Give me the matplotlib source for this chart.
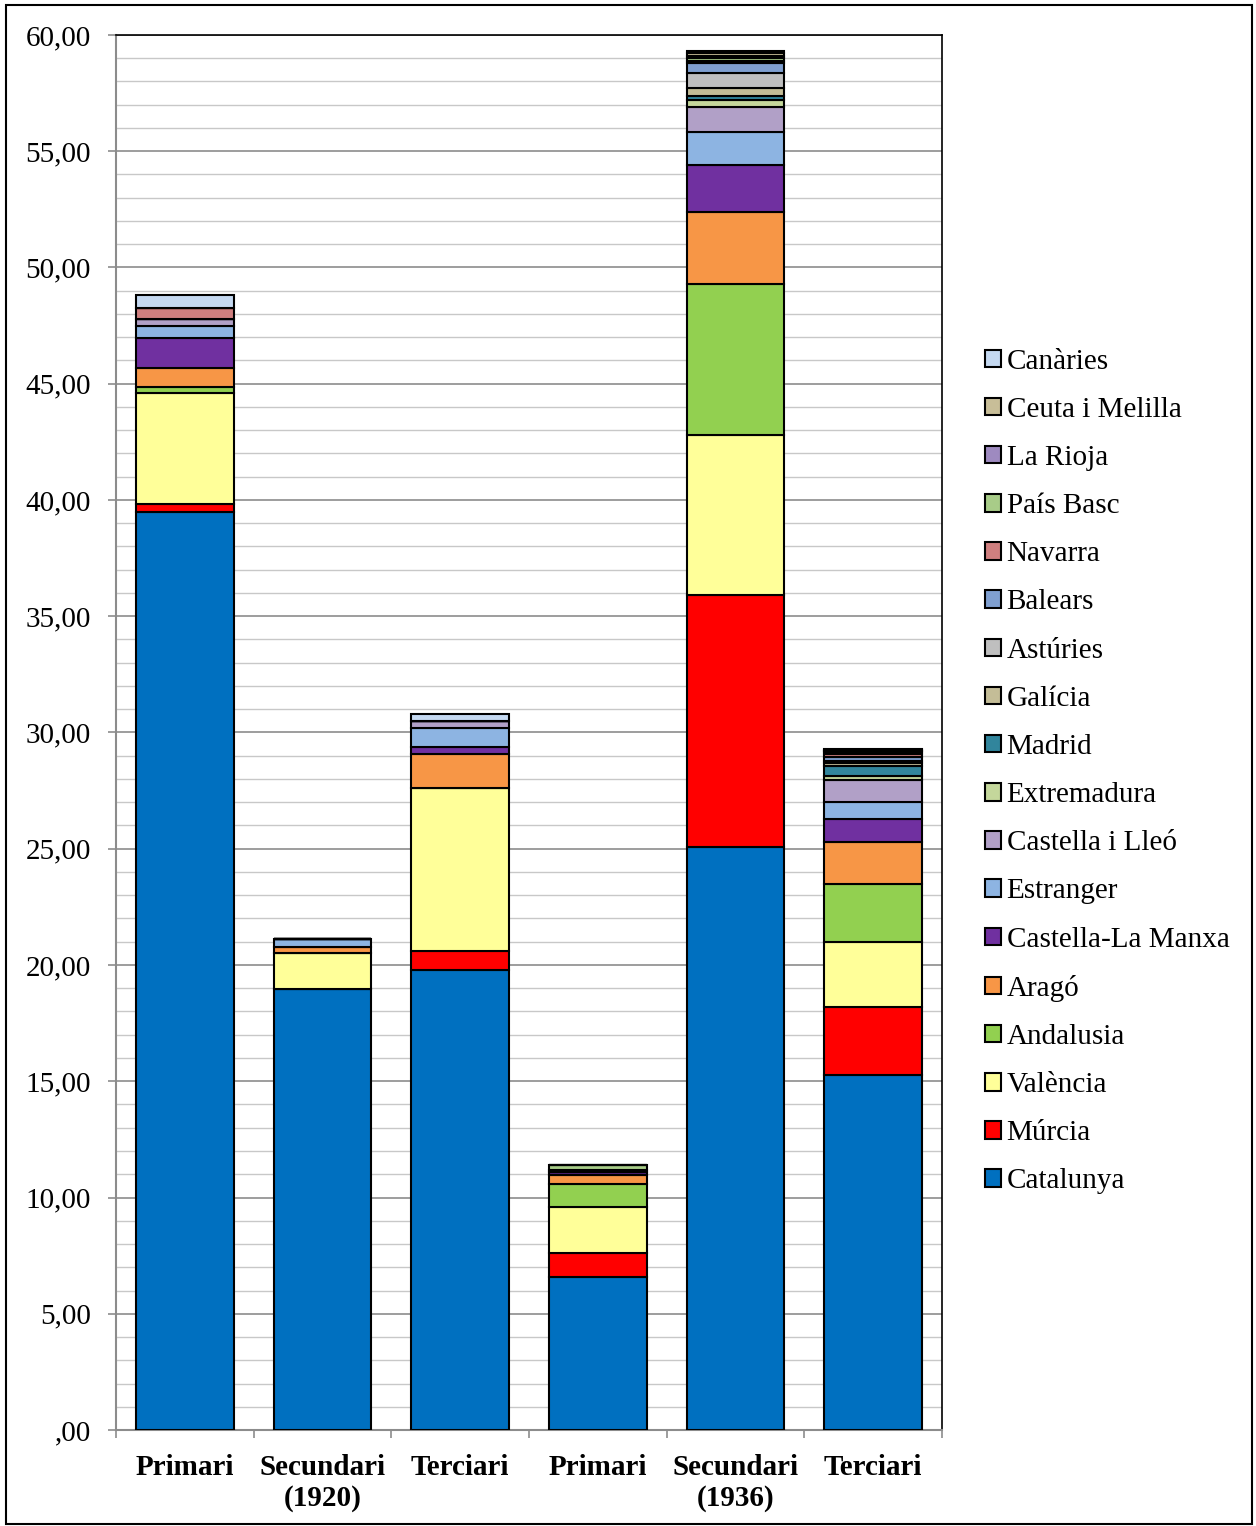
import matplotlib.pyplot as plt
from matplotlib.patches import Rectangle
from matplotlib.ticker import MultipleLocator, FuncFormatter
import numpy as np

plt.rcParams['font.family'] = ['Liberation Serif', 'DejaVu Serif']

# categories (six bars) and their labels
labels = ["Primari", "Secundari\n(1920)", "Terciari", "Primari", "Secundari\n(1936)", "Terciari"]

# segment values per region, bottom to top in stack order
catalunya  = [39.50, 18.97, 19.78, 6.58, 25.08, 15.27]
murcia     = [0.33, 0.00, 0.82, 1.03, 10.83, 2.92]
valencia   = [4.76, 1.53, 7.00, 1.98, 6.89, 2.80]
andalusia  = [0.28, 0.00, 0.00, 0.99, 6.49, 2.49]
arago      = [0.82, 0.29, 1.48, 0.39, 3.10, 1.81]
clm        = [1.29, 0.00, 0.28, 0.12, 2.02, 0.99]
estranger  = [0.50, 0.31, 0.82, 0.00, 1.42, 0.72]
cil        = [0.29, 0.00, 0.32, 0.00, 1.09, 0.96]
extremad   = [0.00, 0.00, 0.00, 0.00, 0.28, 0.18]
madrid     = [0.00, 0.00, 0.00, 0.00, 0.18, 0.43]
galicia    = [0.00, 0.00, 0.00, 0.00, 0.35, 0.13]
asturies   = [0.00, 0.00, 0.00, 0.00, 0.65, 0.08]
balears    = [0.00, 0.00, 0.00, 0.10, 0.40, 0.15]
navarra    = [0.50, 0.00, 0.00, 0.00, 0.08, 0.15]
pais_basc  = [0.00, 0.00, 0.00, 0.21, 0.15, 0.08]
la_rioja   = [0.00, 0.00, 0.00, 0.00, 0.10, 0.05]
ceuta      = [0.00, 0.00, 0.00, 0.00, 0.10, 0.04]
canaries   = [0.55, 0.00, 0.30, 0.00, 0.10, 0.03]

series = [
    ("Catalunya", catalunya, "#0070C0"),
    ("Múrcia", murcia, "#FF0000"),
    ("València", valencia, "#FFFF99"),
    ("Andalusia", andalusia, "#92D050"),
    ("Aragó", arago, "#F79646"),
    ("Castella-La Manxa", clm, "#7030A0"),
    ("Estranger", estranger, "#8DB4E2"),
    ("Castella i Lleó", cil, "#B1A0C7"),
    ("Extremadura", extremad, "#C4D79B"),
    ("Madrid", madrid, "#31859C"),
    ("Galícia", galicia, "#C4BD97"),
    ("Astúries", asturies, "#BFBFBF"),
    ("Balears", balears, "#7F9FD0"),
    ("Navarra", navarra, "#CF7F7F"),
    ("País Basc", pais_basc, "#A8CC88"),
    ("La Rioja", la_rioja, "#9E8AC0"),
    ("Ceuta i Melilla", ceuta, "#C8BE98"),
    ("Canàries", canaries, "#C5D9F1"),
]

fig = plt.figure(figsize=(12.56, 15.26), dpi=100)
ax = fig.add_axes([0.0924, 0.0629, 0.6576, 0.9142])

x = np.arange(len(labels))
bottom = np.zeros(len(labels))
handles = []
for name, vals, col in series:
    vals = np.array(vals)
    b = ax.bar(x, vals, 0.71, bottom=bottom, color=col, edgecolor="black",
               linewidth=1.5, label=name, zorder=3)
    handles.append(b)
    bottom += vals

ax.set_xlim(-0.5, len(labels) - 0.5)
ax.set_ylim(0, 60)
ax.yaxis.set_major_locator(MultipleLocator(5))
ax.yaxis.set_minor_locator(MultipleLocator(1))
ax.yaxis.set_major_formatter(FuncFormatter(
    lambda v, p: ",00" if v == 0 else f"{v:.2f}".replace(".", ",")))
ax.grid(which="major", axis="y", color="#8C8C8C", linewidth=1.2, zorder=0)
ax.grid(which="minor", axis="y", color="#C8C8C8", linewidth=1.0, zorder=0)
ax.tick_params(axis="y", which="major", labelsize=21, length=6, pad=12,
               color="#8C8C8C", width=1.2)
ax.tick_params(axis="y", which="minor", length=0)

ax.set_xticks(x)
ax.set_xticklabels(labels, fontsize=21, fontweight="bold", linespacing=1.2)
ax.tick_params(axis="x", which="major", length=0, pad=17)
ax.set_xticks(np.arange(len(labels) + 1) - 0.5, minor=True)
ax.tick_params(axis="x", which="minor", length=6, color="#8C8C8C", width=1.2)

for s in ["left", "bottom"]:
    ax.spines[s].set_color("#8C8C8C")
    ax.spines[s].set_linewidth(1.5)
for s in ["top", "right"]:
    ax.spines[s].set_color("black")
    ax.spines[s].set_linewidth(1.2)

leg = fig.legend(handles[::-1], [s[0] for s in series][::-1],
                 loc="center left", bbox_to_anchor=(0.784, 0.4944),
                 frameon=False, fontsize=21, labelspacing=0.76,
                 borderpad=0, borderaxespad=0,
                 handlelength=0.55, handleheight=0.55, handletextpad=0.2)
for h in leg.legend_handles:
    h.set_linewidth(1.5)
    h.set_edgecolor("black")

fig.patches.append(Rectangle((0.005, 0.001), 0.992, 0.996, transform=fig.transFigure,
                             fill=False, edgecolor="black", linewidth=1.5))

fig.savefig("out.png", dpi=100)
